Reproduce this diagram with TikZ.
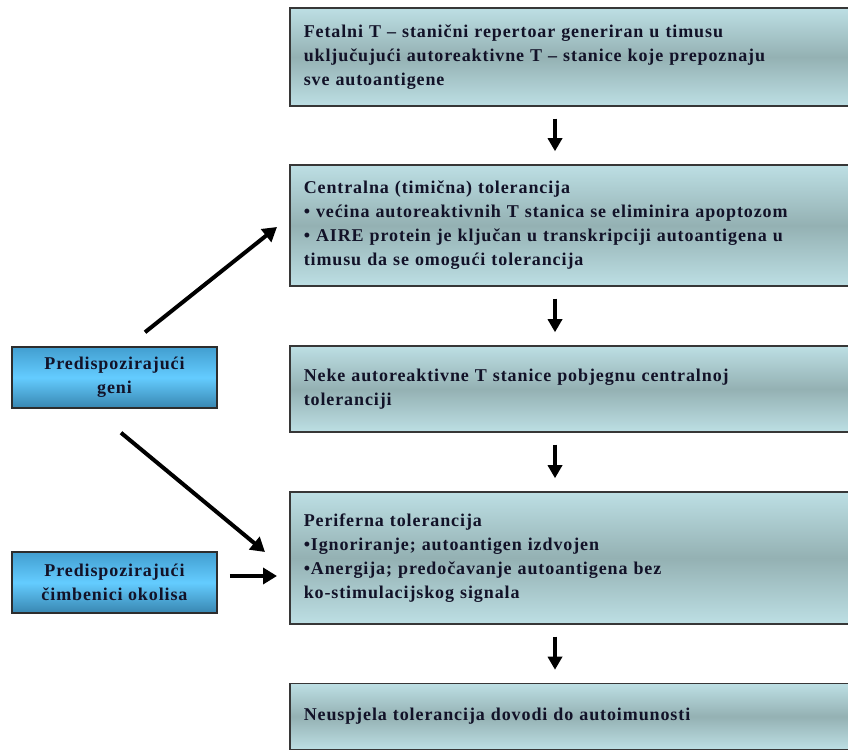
\documentclass[tikz,border=0pt]{standalone}
\usepackage{fontspec}
\setmainfont{Liberation Serif}[LetterSpace=5]
\usepackage{xcolor}
\usetikzlibrary{arrows.meta}
\definecolor{boxlight}{RGB}{189,223,228}
\definecolor{boxmid}{RGB}{148,177,179}
\definecolor{factortop}{RGB}{66,158,208}
\definecolor{factorbot}{RGB}{100,204,255}
\definecolor{ink}{RGB}{18,18,40}
\tikzset{x=1pt,y=1pt,
 txt/.style={font=\fontsize{18}{24}\selectfont\bfseries, text=ink},
 stage/.style={txt,draw={rgb,255:red,55;green,55;blue,55},line width=1.5pt,
  top color=boxlight,bottom color=boxlight,middle color=boxmid,
  anchor=west,minimum width=581pt,text width=553pt,inner xsep=14pt,align=left},
 factor/.style={txt,draw={rgb,255:red,45;green,45;blue,45},line width=1.5pt,
  top color=factortop,bottom color=factortop!85!black,middle color=factorbot,
  minimum width=205pt,minimum height=61pt,align=center},
 down/.style={-{Triangle[width=14pt,length=13pt]},line width=3.5pt,
  shorten <=12pt,shorten >=13pt},
 push/.style={-{Triangle[width=16pt,length=14pt]},line width=4pt},
 }

\begin{document}
\begin{tikzpicture}
        \clip (0,0) rectangle (848,752);
        \fill[white] (0,0) rectangle (848,752);
        \coordinate (axis) at (555,0);

        \node[stage,minimum height=98pt] (fetal) at (289,695)
            {Fetalni T -- stanični repertoar generiran u timusu\\
             uključujući autoreaktivne T -- stanice koje prepoznaju\\
             sve autoantigene};
        \node[stage,minimum height=121pt] (central) at (289,526.5)
            {Centralna (timična) tolerancija\\
             • većina autoreaktivnih T stanica se eliminira apoptozom\\
             • AIRE protein je ključan u transkripciji autoantigena u\\
             timusu da se omogući tolerancija};
        \node[stage,minimum height=86pt] (escape) at (289,363)
            {Neke autoreaktivne T stanice pobjegnu centralnoj\\
             toleranciji};
        \node[stage,minimum height=132pt] (periph) at (289,194)
            {Periferna tolerancija\\
             •Ignoriranje; autoantigen izdvojen\\
             •Anergija; predočavanje autoantigena bez\\
             ko-stimulacijskog signala};
        \node[stage,minimum height=66pt] (fail) at (289,35.5)
            {Neuspjela tolerancija dovodi do autoimunosti};

        \node[factor] (genes) at (114.5,374.5) {Predispozirajući\\geni};
        \node[factor] (milieu) at (114.5,169.5) {Predispozirajući\\čimbenici okolisa};

        \draw[down] (fetal.south -| axis) -- (central.north -| axis);
        \draw[down] (central.south -| axis) -- (escape.north -| axis);
        \draw[down] (escape.south -| axis) -- (periph.north -| axis);
        \draw[down] (periph.south -| axis) -- (fail.north -| axis);

        \draw[push] ([xshift=30.5pt,yshift=14pt]genes.north) -- ([xshift=-12pt,yshift=-1.5pt]central.west);
        \draw[push] ([xshift=6.5pt,yshift=-24pt]genes.south) -- ([xshift=-24pt,yshift=6pt]periph.west);
        \draw[push] ([xshift=12pt,yshift=6.5pt]milieu.east) -- ([xshift=-12pt,yshift=-18pt]periph.west);
\end{tikzpicture}
\end{document}
